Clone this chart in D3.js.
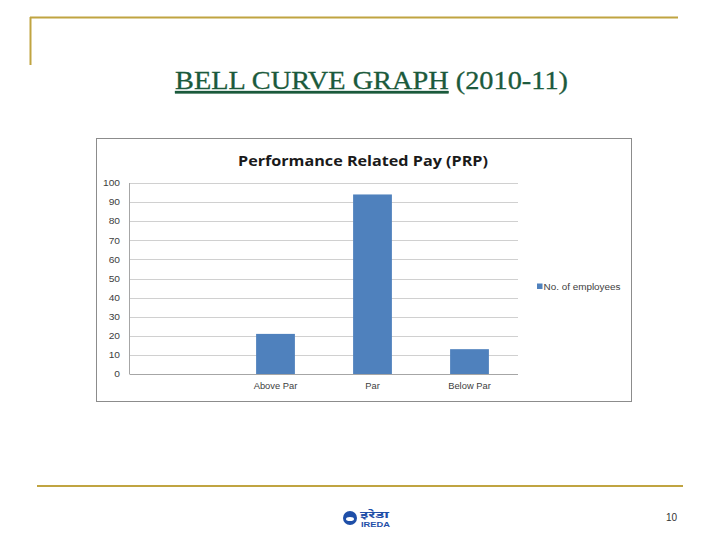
<!DOCTYPE html>
<html><head><meta charset="utf-8">
<script src="https://cdn.jsdelivr.net/npm/d3@7"></script>
<style>html,body{margin:0;padding:0;background:#fff;}svg{display:block;}</style>
</head><body>
<svg id="c" width="720" height="540"></svg>
<script>
const categories = ["", "Above Par", "Par", "Below Par"];
const values = [null, 21, 94, 13];
const yTicks = [0, 10, 20, 30, 40, 50, 60, 70, 80, 90, 100];
const seriesName = "No. of employees";
const chartTitle = "Performance Related Pay (PRP)";
const slideTitle = "BELL CURVE GRAPH";
const slideSub = "(2010-11)";

const svg = d3.select("#c");
const gold = "#c0a441";
function stretch(sel, f) {
  sel.each(function(){ const w = this.getComputedTextLength(); if (w>0) d3.select(this).attr("textLength", w*f).attr("lengthAdjust","spacingAndGlyphs"); });
}

// slide decorations
svg.append("line").attr("x1",30).attr("x2",678).attr("y1",17.5).attr("y2",17.5).attr("stroke",gold).attr("stroke-width",2);
svg.append("line").attr("x1",30.5).attr("x2",30.5).attr("y1",17).attr("y2",65).attr("stroke",gold).attr("stroke-width",2);
svg.append("line").attr("x1",37).attr("x2",683).attr("y1",486).attr("y2",486).attr("stroke",gold).attr("stroke-width",2);

// slide title
const tt = svg.append("text").attr("x",175).attr("y",89)
  .attr("font-family","Liberation Serif, Times New Roman, serif").attr("font-size",25).attr("fill","#1b5a3c")
  .attr("stroke","#1b5a3c").attr("stroke-width",0.3)
  .attr("textLength",393).attr("lengthAdjust","spacingAndGlyphs");
tt.append("tspan").attr("text-decoration","underline").text(slideTitle);
tt.append("tspan").text(" " + slideSub);

// chart frame
svg.append("rect").attr("x",96.5).attr("y",138.5).attr("width",535).attr("height",263)
  .attr("fill","#fff").attr("stroke","#8c8c8c").attr("stroke-width",1);

svg.append("text").attr("x",238).attr("y",166)
  .attr("font-family","Open Sans, Calibri, sans-serif").attr("font-weight","bold").attr("font-size",15)
  .attr("fill","#1a1a1a").attr("textLength",250).attr("lengthAdjust","spacingAndGlyphs").text(chartTitle);

const x = d3.scaleBand().domain(categories.map((d,i)=>i)).range([130,518]).paddingInner(0).paddingOuter(0);
const y = d3.scaleLinear().domain([0,100]).range([374,183]);

// gridlines
svg.append("g").selectAll("line").data(yTicks).join("line")
  .attr("x1",130).attr("x2",518).attr("y1",d=>Math.round(y(d))+0.5).attr("y2",d=>Math.round(y(d))+0.5)
  .attr("stroke",d=>d===0?"#a6a6a6":"#d0d0d0").attr("stroke-width",1);
svg.append("line").attr("x1",129.5).attr("x2",129.5).attr("y1",183).attr("y2",374.5).attr("stroke","#a6a6a6");

// y labels
const yAxis = d3.axisLeft(y).tickValues(yTicks).tickSize(0).tickPadding(10);
const yg = svg.append("g").attr("transform","translate(130,0)").call(yAxis);
yg.select(".domain").remove();
yg.selectAll("text").attr("font-family","Liberation Sans, Arial, sans-serif").attr("font-size",8.5).attr("fill","#404040");
stretch(yg.selectAll("text"), 1.2);

// x labels
const xAxis = d3.axisBottom(x).tickFormat(i=>categories[i]).tickSize(0).tickPadding(9);
const xg = svg.append("g").attr("transform","translate(0,374)").call(xAxis);
xg.select(".domain").remove();
xg.selectAll("text").attr("font-family","Liberation Sans, Arial, sans-serif").attr("font-size",8.5).attr("fill","#404040");
stretch(xg.selectAll("text"), 1.1);

// bars
const bw = x.bandwidth()/2.5;
svg.append("g").selectAll("rect").data(values.map((v,i)=>({v,i})).filter(d=>d.v!=null)).join("rect")
  .attr("x",d=>x(d.i)+x.bandwidth()/2-bw/2).attr("width",bw)
  .attr("y",d=>y(d.v)).attr("height",d=>y(0)-y(d.v)).attr("fill","#4f81bd");

// legend
svg.append("rect").attr("x",537).attr("y",283.5).attr("width",5.5).attr("height",5.5).attr("fill","#4f81bd");
svg.append("text").attr("x",543.5).attr("y",290).attr("font-family","Liberation Sans, Arial, sans-serif")
  .attr("font-size",8.5).attr("fill","#404040").attr("textLength",77).attr("lengthAdjust","spacingAndGlyphs").text(seriesName);

// footer logo
const lg = svg.append("g");
lg.append("circle").attr("cx",350).attr("cy",518).attr("r",7).attr("fill","#1f4fa8");
lg.append("ellipse").attr("cx",350).attr("cy",519).attr("rx",4).attr("ry",2).attr("fill","#fff");
lg.append("text").attr("x",360).attr("y",518).attr("font-family","Noto Sans, sans-serif").attr("font-weight","bold")
  .attr("font-size",9).attr("fill","#1f4fa8").attr("textLength",29).attr("lengthAdjust","spacingAndGlyphs").text("इरेडा");
lg.append("text").attr("x",361).attr("y",527).attr("font-family","Liberation Sans, Arial, sans-serif").attr("font-weight","bold")
  .attr("font-size",7.5).attr("fill","#1f4fa8").attr("textLength",29).attr("lengthAdjust","spacingAndGlyphs").text("IREDA");

svg.append("text").attr("x",677).attr("y",521).attr("text-anchor","end")
  .attr("font-family","Liberation Sans, Arial, sans-serif").attr("font-size",10).attr("fill","#333").text("10");
</script>
</body></html>
